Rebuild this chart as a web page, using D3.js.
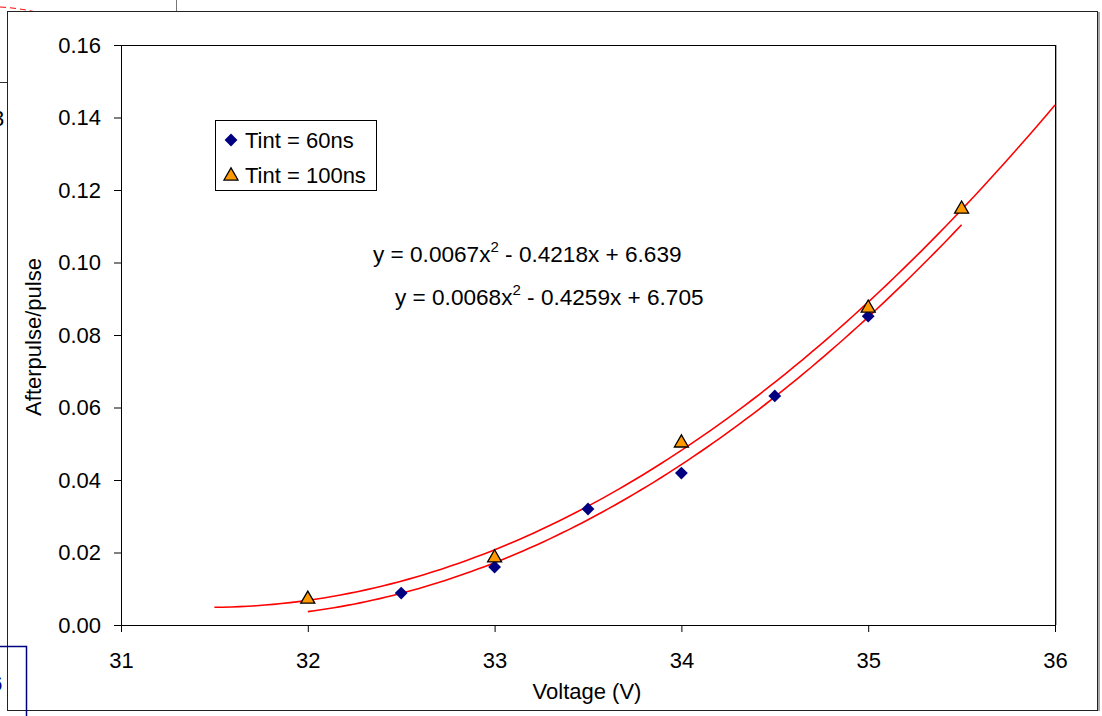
<!DOCTYPE html>
<meta charset="utf-8">
<script src="https://d3js.org/d3.v7.min.js"></script>
<style>
  body { margin: 0; background: #fff; }
  text { font-family: "Liberation Sans", Arial, sans-serif; fill: #000; }
</style>
<div id="my_dataviz"></div>
<script>
// data
var voltage60 = [32.5, 33, 33.5, 34, 34.5, 35];
var afterpulse60 = [0.0088, 0.0160, 0.0320, 0.0419, 0.0632, 0.0852];
var voltage100 = [32, 33, 34, 35, 35.5];
var afterpulse100 = [0.0074, 0.0188, 0.0505, 0.0877, 0.1150];
var xTicks = [31, 32, 33, 34, 35, 36];
var yTicks = [0, 0.02, 0.04, 0.06, 0.08, 0.10, 0.12, 0.14, 0.16];
var seriesNames = ["Tint = 60ns", "Tint = 100ns"];
var equations = [
  {pre: "y = 0.0067x", post: " - 0.4218x + 6.639"},
  {pre: "y = 0.0068x", post: " - 0.4259x + 6.705"}
];
// trendline ranges (forecast half a volt each way)
var trend100Range = [31.5, 36];
var trend60Range = [32, 35.5];

var W = 1102, H = 716;
var margin = {top: 45, left: 121},
    width = 934,
    height = 580;
var fs = "22px";

var root = d3.select("#my_dataviz")
  .append("svg")
    .attr("width", W)
    .attr("height", H);

// leftover bits of neighbouring drawings around the chart
root.append("path")
  .attr("d", "M0,7 Q18,8 36,12")
  .attr("fill", "none")
  .attr("stroke", "red")
  .attr("stroke-dasharray", "6,4");
root.append("line").attr("x1", 176.5).attr("x2", 176.5).attr("y1", 0).attr("y2", 11)
  .attr("stroke", "#777");
root.append("line").attr("x1", 0).attr("x2", 7).attr("y1", 82.5).attr("y2", 82.5)
  .attr("stroke", "#333");
root.append("text").attr("x", -8).attr("y", 126).style("font-size", fs).text("3");

// outer chart frame
root.append("rect")
  .attr("x", 7.5).attr("y", 11.5)
  .attr("width", 1090).attr("height", 699)
  .attr("fill", "#fff")
  .attr("stroke", "#222");
root.append("line").attr("x1", 1099).attr("x2", 1099).attr("y1", 12).attr("y2", 711)
  .attr("stroke", "#aaa").attr("stroke-width", 2);

// blue box bottom-left
root.append("rect")
  .attr("x", -10).attr("y", 646.5)
  .attr("width", 36.5).attr("height", 100)
  .attr("fill", "none")
  .attr("stroke", "#000080")
  .attr("stroke-width", 1.5);
root.append("text").attr("x", -10).attr("y", 691).style("font-size", "22px")
  .style("fill", "#000080").style("font-weight", "bold").text("6");

var svg = root.append("g")
  .attr("transform", "translate(" + margin.left + "," + margin.top + ")");

var x = d3.scaleLinear().domain([31, 36]).range([0, width]);
var y = d3.scaleLinear().domain([0, 0.16]).range([height, 0]);

// plot area border
svg.append("rect")
  .attr("x", 0.5).attr("y", 0.5)
  .attr("width", width).attr("height", height)
  .attr("fill", "none")
  .attr("stroke", "#000");
svg.append("line").attr("x1", width + 1.5).attr("x2", width + 1.5).attr("y1", 0).attr("y2", height)
  .attr("stroke", "#aaa");

// X axis
var xAxis = svg.append("g")
  .attr("transform", "translate(0," + height + ")")
  .call(d3.axisBottom(x).tickValues(xTicks).tickSize(7).tickFormat(d3.format("d")));
// Y axis
var yAxis = svg.append("g")
  .call(d3.axisLeft(y).tickValues(yTicks).tickSize(7).tickPadding(13).tickFormat(d3.format(".2f")));
[xAxis, yAxis].forEach(function(a) {
  a.select(".domain").attr("stroke", "#000");
  a.selectAll(".tick line").attr("stroke", "#000");
  a.selectAll(".tick text").style("font-size", fs)
    .style("font-family", "'Liberation Sans', Arial, sans-serif").attr("fill", "#000");
});
xAxis.selectAll(".tick text").attr("dy", "0.71em").attr("y", 27);

// axis titles
svg.append("text")
  .attr("text-anchor", "middle")
  .attr("x", x(33.5) - 1)
  .attr("y", height + 74)
  .style("font-size", fs)
  .text("Voltage (V)");
svg.append("text")
  .attr("text-anchor", "middle")
  .attr("transform", "rotate(-90)")
  .attr("x", -y(0.08) - 2)
  .attr("y", -80)
  .style("font-size", fs)
  .text("Afterpulse/pulse");

// least squares quadratic trendline, like the spreadsheet does
function quadFit(xs, ys) {
  var x0 = d3.mean(xs);
  var S = [0, 0, 0, 0, 0], T = [0, 0, 0];
  xs.forEach(function(xv, i) {
    var u = xv - x0;
    for (var k = 0; k < 5; k++) S[k] += Math.pow(u, k);
    for (var k = 0; k < 3; k++) T[k] += ys[i] * Math.pow(u, k);
  });
  var M = [[S[0], S[1], S[2]], [S[1], S[2], S[3]], [S[2], S[3], S[4]]];
  function det(m) {
    return m[0][0] * (m[1][1] * m[2][2] - m[1][2] * m[2][1])
         - m[0][1] * (m[1][0] * m[2][2] - m[1][2] * m[2][0])
         + m[0][2] * (m[1][0] * m[2][1] - m[1][1] * m[2][0]);
  }
  var D = det(M), c = [];
  for (var j = 0; j < 3; j++) {
    var Mj = M.map(function(row, r) { return row.map(function(v, col) { return col === j ? T[r] : v; }); });
    c.push(det(Mj) / D);
  }
  return function(xv) { var u = xv - x0; return c[0] + c[1] * u + c[2] * u * u; };
}

var line = d3.line().x(function(d) { return x(d[0]); }).y(function(d) { return y(d[1]); });
[[voltage100, afterpulse100, trend100Range], [voltage60, afterpulse60, trend60Range]].forEach(function(s) {
  var f = quadFit(s[0], s[1]);
  var pts = d3.range(0, 101).map(function(i) {
    var xv = s[2][0] + (s[2][1] - s[2][0]) * i / 100;
    return [xv, f(xv)];
  });
  svg.append("path")
    .attr("d", line(pts))
    .attr("fill", "none")
    .attr("stroke", "#ff0000")
    .attr("stroke-width", 1.6);
});

// points
var diamond = d3.symbol().type(d3.symbolSquare).size(82);
var triangle = d3.symbol().type(d3.symbolTriangle).size(85);

svg.selectAll("myDiamonds")
  .data(voltage60.map(function(v, i) { return [v, afterpulse60[i]]; }))
  .enter()
  .append("path")
    .attr("d", diamond)
    .attr("transform", function(d) { return "translate(" + x(d[0]) + "," + y(d[1]) + ") rotate(45)"; })
    .attr("fill", "#000080");

svg.selectAll("myTriangles")
  .data(voltage100.map(function(v, i) { return [v, afterpulse100[i]]; }))
  .enter()
  .append("path")
    .attr("d", triangle)
    .attr("transform", function(d) { return "translate(" + x(d[0]) + "," + (y(d[1]) + 1) + ")"; })
    .attr("fill", "#ff9900")
    .attr("stroke", "#000")
    .attr("stroke-width", 1.3);

// equations
var eqPos = [[252, 217], [274, 260]];
equations.forEach(function(e, i) {
  var t = svg.append("text")
    .attr("x", eqPos[i][0])
    .attr("y", eqPos[i][1])
    .style("font-size", "22.6px");
  t.append("tspan").text(e.pre);
  t.append("tspan").attr("dy", -10).style("font-size", "15px").text("2");
  t.append("tspan").attr("dy", 10).text(e.post);
});

// legend
var legend = svg.append("g").attr("transform", "translate(94,75)");
legend.append("rect")
  .attr("x", 0.5).attr("y", 0.5)
  .attr("width", 161).attr("height", 70)
  .attr("fill", "#fff")
  .attr("stroke", "#000");
legend.append("path")
  .attr("d", diamond)
  .attr("transform", "translate(16,20) rotate(45)")
  .attr("fill", "#000080");
legend.append("path")
  .attr("d", triangle)
  .attr("transform", "translate(16,56)")
  .attr("fill", "#ff9900")
  .attr("stroke", "#000")
  .attr("stroke-width", 1.3);
legend.selectAll("myLegend")
  .data(seriesNames)
  .enter()
  .append("text")
    .attr("x", 30)
    .attr("y", function(d, i) { return 28 + i * 35; })
    .style("font-size", fs)
    .text(function(d) { return d; });
</script>
